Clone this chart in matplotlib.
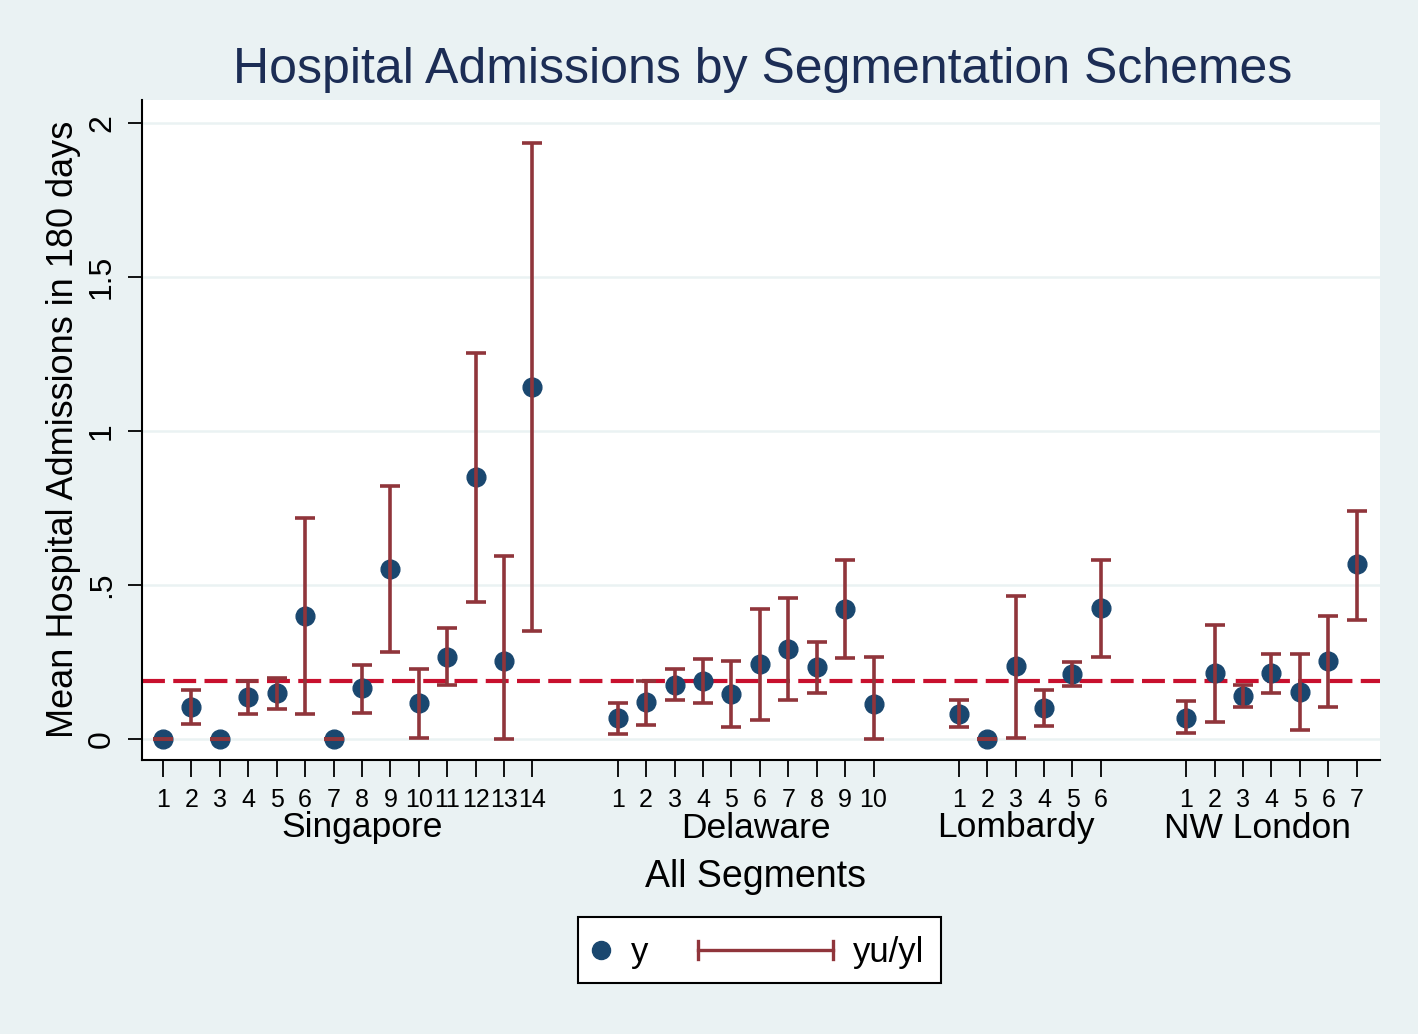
import matplotlib
matplotlib.use("Agg")
import matplotlib.pyplot as plt
from matplotlib.lines import Line2D
from matplotlib.patches import Rectangle
from matplotlib.transforms import blended_transform_factory
import numpy as np

plt.rcParams['font.family'] = ['Liberation Sans', 'DejaVu Sans']
plt.rcParams['lines.scale_dashes'] = False

# ---------------- data ----------------
groups = ["Singapore", "Delaware", "Lombardy", "NW London"]

sing_y  = [0, 0.104, 0, 0.135, 0.148, 0.398, 0, 0.167, 0.552, 0.116, 0.268, 0.850, 0.253, 1.144]
sing_lo = [0, 0.049, 0, 0.081, 0.099, 0.081, 0, 0.084, 0.282, 0.003, 0.175, 0.446, 0.000, 0.352]
sing_hi = [0, 0.159, 0, 0.189, 0.199, 0.719, 0, 0.242, 0.821, 0.227, 0.359, 1.255, 0.596, 1.934]

del_y  = [0.067, 0.119, 0.177, 0.189, 0.145, 0.243, 0.292, 0.233, 0.421, 0.113]
del_lo = [0.018, 0.045, 0.127, 0.118, 0.040, 0.062, 0.128, 0.148, 0.262, 0.000]
del_hi = [0.116, 0.190, 0.226, 0.260, 0.254, 0.421, 0.457, 0.316, 0.581, 0.265]

lom_y  = [0.080, 0.000, 0.237, 0.102, 0.210, 0.424]
lom_lo = [0.039, 0.000, 0.005, 0.042, 0.173, 0.268]
lom_hi = [0.127, 0.000, 0.465, 0.159, 0.249, 0.580]

nwl_y  = [0.069, 0.213, 0.140, 0.213, 0.154, 0.253, 0.567]
nwl_lo = [0.019, 0.056, 0.104, 0.151, 0.031, 0.104, 0.388]
nwl_hi = [0.124, 0.369, 0.177, 0.275, 0.277, 0.399, 0.741]

overall_mean = 0.19

y_ticks = [0, 0.5, 1, 1.5, 2]
y_tick_labels = ["0", ".5", "1", "1.5", "2"]

title = "Hospital Admissions by Segmentation Schemes"
ylabel = "Mean Hospital Admissions in 180 days"
xlabel = "All Segments"

# ---------------- layout ----------------
W, H = 1418, 1034
BG = "#EAF2F3"
MARKER = "#1A476F"
BAR = "#90353B"
LINE = "#C8102E"
TITLE_C = "#1C2D55"

fig = plt.figure(figsize=(W / 100, H / 100), dpi=100, facecolor=BG)
ax = fig.add_axes([142 / W, 1 - 760 / H, (1380 - 142) / W, (760 - 100) / H])
ax.set_facecolor("white")

all_y, all_lo, all_hi, pos, ticklabels = [], [], [], [], []
start = 1
for vals, lo, hi in [(sing_y, sing_lo, sing_hi), (del_y, del_lo, del_hi),
                     (lom_y, lom_lo, lom_hi), (nwl_y, nwl_lo, nwl_hi)]:
    n = len(vals)
    p = list(range(start, start + n))
    pos += p
    ticklabels += [str(i + 1) for i in range(n)]
    all_y += vals
    all_lo += lo
    all_hi += hi
    start += n + 2

all_y = np.array(all_y); all_lo = np.array(all_lo); all_hi = np.array(all_hi)
pos = np.array(pos)

for yv in y_ticks:
    ax.axhline(yv, color=BG, lw=1.8, zorder=0)

ax.axhline(overall_mean, color=LINE, lw=3.0, dashes=(16.5, 6.0), zorder=1.5)

ax.plot(pos, all_y, "o", ms=13.5, color=MARKER, zorder=2.5)
ax.errorbar(pos, all_y, yerr=[all_y - all_lo, all_hi - all_y], fmt="none",
            ecolor=BAR, elinewidth=2.6, capsize=7, capthick=2.6, zorder=3)

ax.set_xlim(0.26, 43.82)
ax.set_ylim(-0.068, 2.075)

ax.set_yticks(y_ticks)
ax.set_yticklabels(y_tick_labels, rotation=90, va="center", fontsize=23)
ax.set_xticks(pos)
ax.set_xticklabels(ticklabels, fontsize=18)
ax.tick_params(axis="y", length=10, width=1.3, pad=8, color="black")
ax.tick_params(axis="x", length=12, width=1.3, pad=8, color="black")

for s in ["top", "right"]:
    ax.spines[s].set_visible(False)
for s in ["left", "bottom"]:
    ax.spines[s].set_linewidth(1.5)
    ax.spines[s].set_color("black")

# group labels
label_x = [8.0, 21.85, 31.0, 39.5]
tr = blended_transform_factory(ax.transData, fig.transFigure)
for g, xg in zip(groups, label_x):
    ax.text(xg, 1 - 828 / H, g, transform=tr, ha="center", va="center",
            fontsize=25.5, clip_on=False)

fig.text(756 / W, 1 - 877 / H, xlabel, ha="center", va="center", fontsize=27)
fig.text(763 / W, 1 - 70 / H, title, ha="center", va="center", fontsize=36, color=TITLE_C)
fig.text(64 / W, 1 - 429 / H, ylabel, ha="center", va="center", rotation=90, fontsize=26)

# legend (manual, Stata-style)
fig.add_artist(Rectangle((578 / W, 1 - 983 / H), 363 / W, 66 / H, transform=fig.transFigure,
                         facecolor="white", edgecolor="black", lw=1.5))
fig.add_artist(Line2D([601 / W], [1 - 950 / H], marker="o", ms=13, color=MARKER,
                      linestyle="none", transform=fig.transFigure))
fig.text(631 / W, 1 - 962 / H, "y", ha="left", va="baseline", fontsize=25)
fig.add_artist(Line2D([698 / W, 833 / W], [1 - 950 / H, 1 - 950 / H], color=BAR, lw=2.4,
                      transform=fig.transFigure))
for xx in (698, 833):
    fig.add_artist(Line2D([xx / W, xx / W], [1 - 941 / H, 1 - 959 / H], color=BAR, lw=2.4,
                          transform=fig.transFigure))
fig.text(853 / W, 1 - 962 / H, "yu/yl", ha="left", va="baseline", fontsize=25)

fig.savefig("out.png", dpi=100, facecolor=BG)
